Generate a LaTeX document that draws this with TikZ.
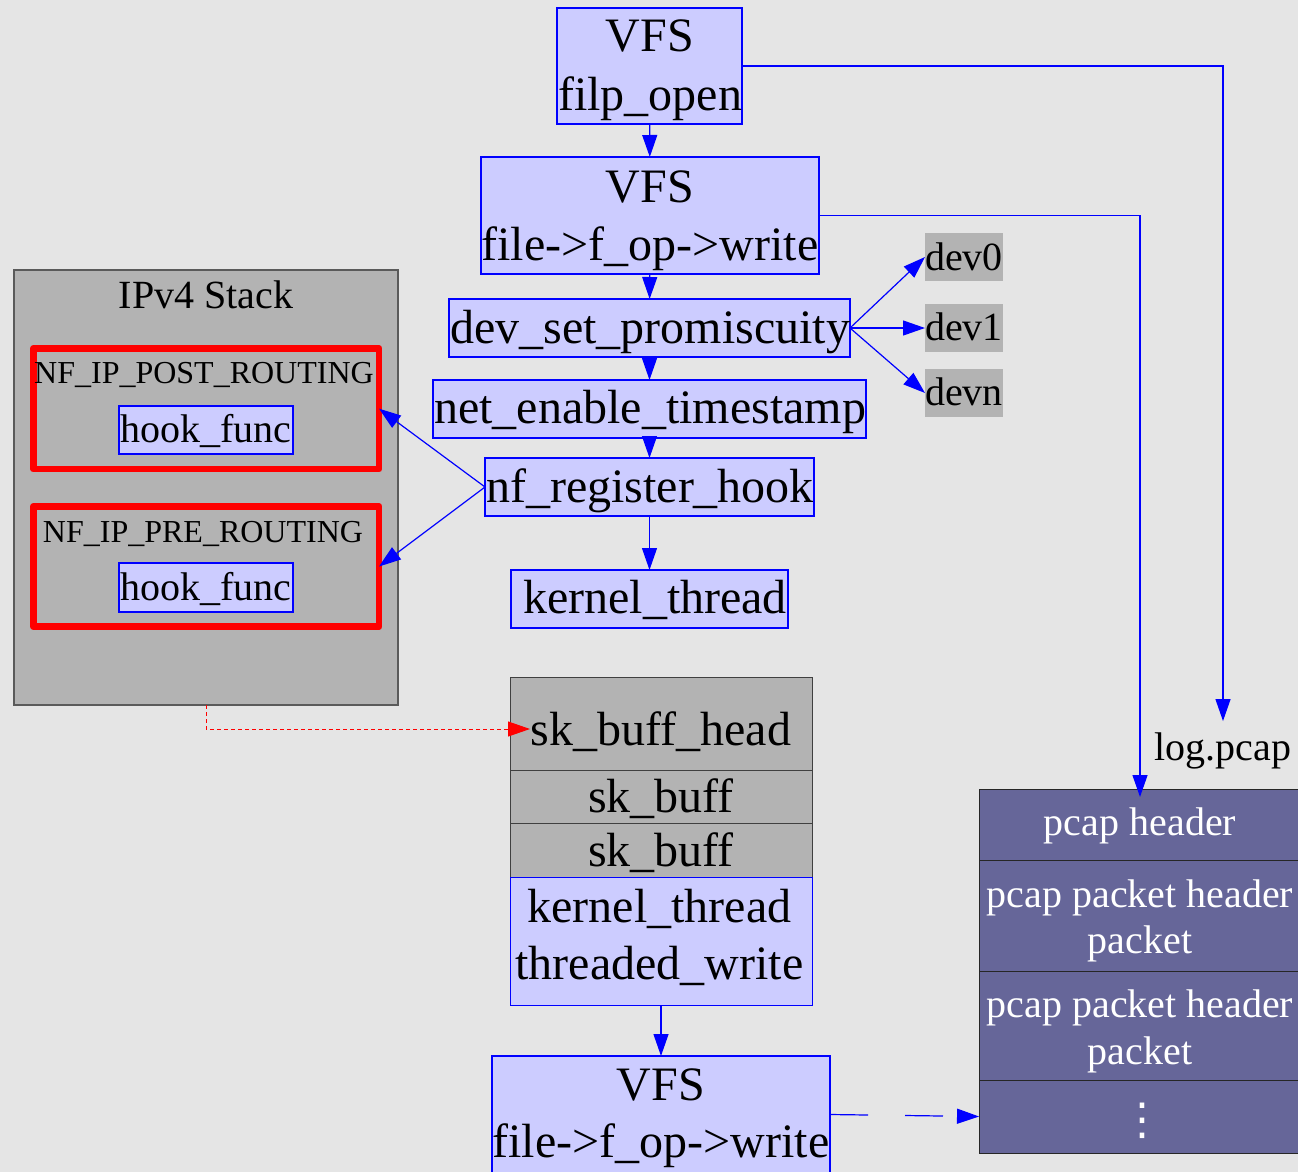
\documentclass[tikz,border=0pt]{standalone}
\usepackage{fontspec}
\setmainfont{Liberation Serif}
\newfontfamily\symfont{DejaVu Sans}
\usetikzlibrary{arrows.meta}
\definecolor{bgc}{HTML}{E5E5E5}
\definecolor{lav}{HTML}{CCCCFF}
\definecolor{gry}{HTML}{B3B3B3}
\definecolor{clb}{HTML}{5A5A5A}
\definecolor{slate}{HTML}{666699}
\tikzset{
  box/.style={draw=blue, fill=lav, line width=1.2pt, inner sep=0pt, outer sep=0pt},
  gbox/.style={fill=gry, draw=none, inner sep=0pt, outer sep=0pt},
  gcell/.style={fill=gry, draw=black!75, line width=1pt, inner sep=0pt, outer sep=0pt},
  pcell/.style={fill=slate, draw=black!85, line width=1pt, inner sep=0pt, outer sep=0pt},
  hookbox/.style={draw=red, line width=6.7pt, line join=round, inner sep=0pt, outer sep=0pt},
  clusterbox/.style={fill=gry, draw=clb, line width=1.3pt, inner sep=0pt, outer sep=0pt},
  txt/.style={anchor=base, inner sep=0pt},
  big/.style={font=\fontsize{48}{58}\selectfont},
  mid/.style={font=\fontsize{40}{46}\selectfont},
  sml/.style={font=\fontsize{32}{38}\selectfont},
  edge/.style={draw=blue, line width=1.2pt, -{Triangle[length=22pt,width=15pt]}},
  redge/.style={draw=red, line width=1pt, dashed, dash pattern=on 4pt off 3pt, -{Triangle[length=22pt,width=15pt]}},
  bedge/.style={draw=blue, line width=1.2pt, dash pattern=on 38pt off 37pt, -{Triangle[length=22pt,width=15pt]}},
}
\begin{document}
\begin{tikzpicture}[x=1pt, y=-1pt]
\useasboundingbox (0,0) rectangle (1298,1172);
\fill[bgc] (0,0) rectangle (1298,1172);

% main call chain
\node[box, minimum width=185pt, minimum height=116pt] (filp) at (649.5,66) {};
\node[box, minimum width=338pt, minimum height=117pt] (vfsw) at (650,215.5) {};
\node[box, minimum width=401pt, minimum height=58pt] (dsp) at (649.5,328) {};
\node[box, minimum width=433pt, minimum height=58pt] (net) at (649.5,409) {};
\node[box, minimum width=329pt, minimum height=58pt] (nfr) at (649.5,487) {};
\node[box, minimum width=277pt, minimum height=58pt] (kth) at (649.5,599) {};

\node[txt, big] (tfilp1) at (650,52) {VFS};
\node[txt, big] (tfilp2) at (650,110) {filp\_open};
\node[txt, big] (tvfsw1) at (650,202) {VFS};
\node[txt, big] (tvfsw2) at (650,260) {file->f\_op->write};
\node[txt, big] (tdsp) at (650,343) {dev\_set\_promiscuity};
\node[txt, big] (tnet) at (650,423) {net\_enable\_timestamp};
\node[txt, big] (tnfr) at (650,502) {nf\_register\_hook};
\node[txt, big] (tkth) at (655,613) {kernel\_thread};

% devices
\node[gbox, minimum width=78pt, minimum height=48pt] (dev0) at (964,257) {};
\node[gbox, minimum width=78pt, minimum height=48pt] (dev1) at (964,328) {};
\node[gbox, minimum width=78pt, minimum height=48pt] (devn) at (964,393) {};
\node[txt, mid] (tdev0) at (964,270) {dev0};
\node[txt, mid] (tdev1) at (964,340) {dev1};
\node[txt, mid] (tdevn) at (964,405) {devn};

% IPv4 stack cluster
\node[clusterbox, minimum width=384pt, minimum height=435pt] (ipv4) at (206,487.5) {};
\node[txt, mid] (tipv4) at (206,308) {IPv4 Stack};
\node[hookbox, minimum width=345.7pt, minimum height=120.7pt] (post) at (206.15,408.65) {};
\node[hookbox, minimum width=345.7pt, minimum height=120.4pt] (pre) at (206.15,566.5) {};
\node[txt, sml] (tpost) at (204,383) {NF\_IP\_POST\_ROUTING};
\node[txt, sml] (tpre) at (203,542) {NF\_IP\_PRE\_ROUTING};
\node[box, minimum width=174pt, minimum height=48pt] (hook1) at (206,430) {};
\node[box, minimum width=174pt, minimum height=49pt] (hook2) at (206,587.5) {};
\node[txt, mid] (thook1) at (206,442) {hook\_func};
\node[txt, mid] (thook2) at (206,600) {hook\_func};

% sk_buff record
\node[gcell, minimum width=302pt, minimum height=93pt] (skh) at (661,723.5) {};
\node[gcell, minimum width=302pt, minimum height=53pt] (sk1) at (661,796.5) {};
\node[gcell, minimum width=302pt, minimum height=54pt] (sk2) at (661,850) {};
\node[box, line width=1pt, minimum width=302pt, minimum height=128pt] (ktw) at (661,941) {};
\node[txt, big] (tskh) at (661,745) {sk\_buff\_head};
\node[txt, big] (tsk1) at (661,812) {sk\_buff};
\node[txt, big] (tsk2) at (661,866) {sk\_buff};
\node[txt, big] (tktw1) at (659.5,922) {kernel\_thread};
\node[txt, big] (tktw2) at (659.5,979) {threaded\_write};
\coordinate (skport) at (530,729);

% final VFS write
\node[box, minimum width=338pt, minimum height=117pt] (vfs2) at (661,1114.5) {};
\node[txt, big] (tvfs21) at (661,1100) {VFS};
\node[txt, big] (tvfs22) at (661,1157) {file->f\_op->write};

% pcap file record
\node[pcell, minimum width=322pt, minimum height=71pt] (ph) at (1140,824.5) {};
\node[pcell, minimum width=322pt, minimum height=111pt] (pp1) at (1140,915.5) {};
\node[pcell, minimum width=322pt, minimum height=109pt] (pp2) at (1140,1025.5) {};
\node[pcell, minimum width=322pt, minimum height=73pt] (pdots) at (1140,1116.5) {};
\node[txt, mid, text=white] (tph) at (1140,835) {pcap header};
\node[txt, mid, text=white] (tpp1a) at (1140,907) {pcap packet header};
\node[txt, mid, text=white] (tpp1b) at (1140,953) {packet};
\node[txt, mid, text=white] (tpp2a) at (1140,1017) {pcap packet header};
\node[txt, mid, text=white] (tpp2b) at (1140,1064) {packet};
\node[inner sep=0pt, text=white, font=\symfont\fontsize{44}{44}\selectfont] (tdots) at (1142,1121) {⋮};

% log.pcap label
\node[txt, mid, inner ysep=11pt] (logp) at (1223,760) {log.pcap};

% connectors
\draw[edge] (filp) -- (vfsw);
\draw[edge] (vfsw) -- (dsp);
\draw[edge] (dsp) -- (net);
\draw[edge] (net) -- (nfr);
\draw[edge] (nfr) -- (kth);
\draw[edge] (dsp.east) -- (dev0.west);
\draw[edge] (dsp.east) -- (dev1.west);
\draw[edge] (dsp.east) -- (devn.west);
\draw[edge] (nfr.west) -- (post.east);
\draw[edge] (nfr.west) -- (pre.east);
\draw[edge] (ktw.south) -- (vfs2.north);
\draw[edge] (filp.east) -| (logp.north);
\draw[edge] (vfsw.east) -| ([yshift=-8pt]ph.north);
\draw[bedge] (vfs2.east) -- (pdots.west);
\draw[redge] (ipv4.south) |- (skport);
\end{tikzpicture}
\end{document}
